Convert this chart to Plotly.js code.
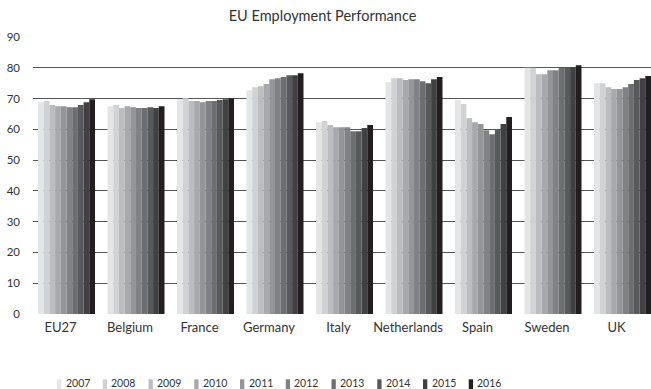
<!DOCTYPE html>
<html>
<head>
<meta charset="utf-8">
<script src="https://cdn.plot.ly/plotly-3.0.1.min.js"></script>
<style>html,body{margin:0;padding:0;background:#fff;}#chart{width:651px;height:389px;}</style>
</head>
<body>
<div id="chart"></div>
<script>
const countries = ["EU27", "Belgium", "France", "Germany", "Italy", "Netherlands", "Spain", "Sweden", "UK"];
const years = ["2007", "2008", "2009", "2010", "2011", "2012", "2013", "2014", "2015", "2016"];
const colors = ["#e4e5e6", "#d1d2d4", "#bcbdc0", "#a7a9ac", "#939598", "#808285", "#6d6e71", "#58595b", "#414042", "#231f20"];

// values per year, in country order
const v2007 = [68.8, 67.5, 69.8, 72.7, 62.3, 75.3, 69.5, 80.0, 75.0];
const v2008 = [69.2, 67.9, 70.1, 73.7, 62.7, 76.6, 68.2, 80.0, 75.0];
const v2009 = [67.9, 66.9, 69.2, 74.0, 61.4, 76.6, 63.6, 77.9, 73.7];
const v2010 = [67.5, 67.5, 69.2, 74.7, 60.7, 76.0, 62.3, 77.9, 73.1];
const v2011 = [67.5, 67.2, 68.8, 76.3, 60.7, 76.3, 61.7, 79.2, 73.1];
const v2012 = [67.2, 66.9, 69.2, 76.6, 60.7, 76.3, 59.7, 79.2, 73.7];
const v2013 = [67.2, 66.9, 69.2, 77.0, 59.4, 75.6, 58.4, 79.9, 74.7];
const v2014 = [67.9, 67.2, 69.5, 77.6, 59.4, 75.0, 60.1, 79.9, 76.0];
const v2015 = [68.8, 66.9, 69.8, 77.6, 60.4, 76.3, 61.7, 80.2, 76.6];
const v2016 = [69.8, 67.5, 70.1, 78.2, 61.4, 77.0, 64.0, 80.8, 77.3];
const series = [v2007, v2008, v2009, v2010, v2011, v2012, v2013, v2014, v2015, v2016];

const FONT = "Lato, 'Open Sans', sans-serif";

const W = 651, H = 389;
const M = {l: 33, r: 0, t: 37, b: 75};
const plotW = W - M.l - M.r, plotH = H - M.t - M.b;
const px2x = px => (px - M.l) / plotW;
const py2y = py => (H - M.b - py) / plotH;

const data = series.map((vals, i) => ({
  type: "bar",
  name: years[i],
  x: countries,
  y: vals,
  marker: {color: colors[i], line: {width: 0}},
  hoverinfo: "x+y+name",
  showlegend: false
}));

// custom legend (narrow swatches like the original)
const legStart = 57, legStep = 45.75, swW = 4.3;
const shapes = [], annotations = [];
years.forEach((yr, i) => {
  const x0 = legStart + i * legStep;
  shapes.push({
    type: "rect", xref: "paper", yref: "paper",
    x0: px2x(x0), x1: px2x(x0 + swW),
    y0: py2y(389), y1: py2y(379.3),
    fillcolor: colors[i], line: {width: 0}
  });
  annotations.push({
    xref: "paper", yref: "paper",
    x: px2x(x0 + 6.5), y: py2y(383.3),
    xanchor: "left", yanchor: "middle",
    text: yr, showarrow: false,
    font: {family: FONT, size: 10.5, color: "#333333"}
  });
});

const layout = {
  width: W,
  height: H,
  paper_bgcolor: "#ffffff",
  plot_bgcolor: "#ffffff",
  margin: M,
  font: {family: FONT, color: "#333333", size: 12},
  title: {
    text: "EU Employment Performance",
    font: {family: FONT, size: 14.5, color: "#333333"},
    x: 0.4955, xanchor: "center", xref: "container",
    y: 1 - 15.5 / H, yref: "container", yanchor: "middle"
  },
  barmode: "group",
  bargap: 0.18,
  bargroupgap: 0,
  showlegend: false,
  shapes: shapes,
  annotations: annotations,
  xaxis: {
    type: "category",
    range: [-0.482, 8.41],
    showgrid: false,
    showline: false,
    zeroline: false,
    ticks: "",
    ticklabelstandoff: 4,
    ticklabelshift: -6,
    tickfont: {family: FONT, size: 13, color: "#333333"},
    fixedrange: true
  },
  yaxis: {
    range: [0, 90],
    dtick: 10,
    tick0: 0,
    showgrid: true,
    gridcolor: "#555555",
    gridwidth: 1,
    zeroline: false,
    showline: false,
    ticks: "",
    ticklabelstandoff: 12,
    tickfont: {family: FONT, size: 11.5, color: "#333333"},
    fixedrange: true
  }
};

Plotly.newPlot("chart", data, layout, {displayModeBar: false, staticPlot: true});
</script>
</body>
</html>
